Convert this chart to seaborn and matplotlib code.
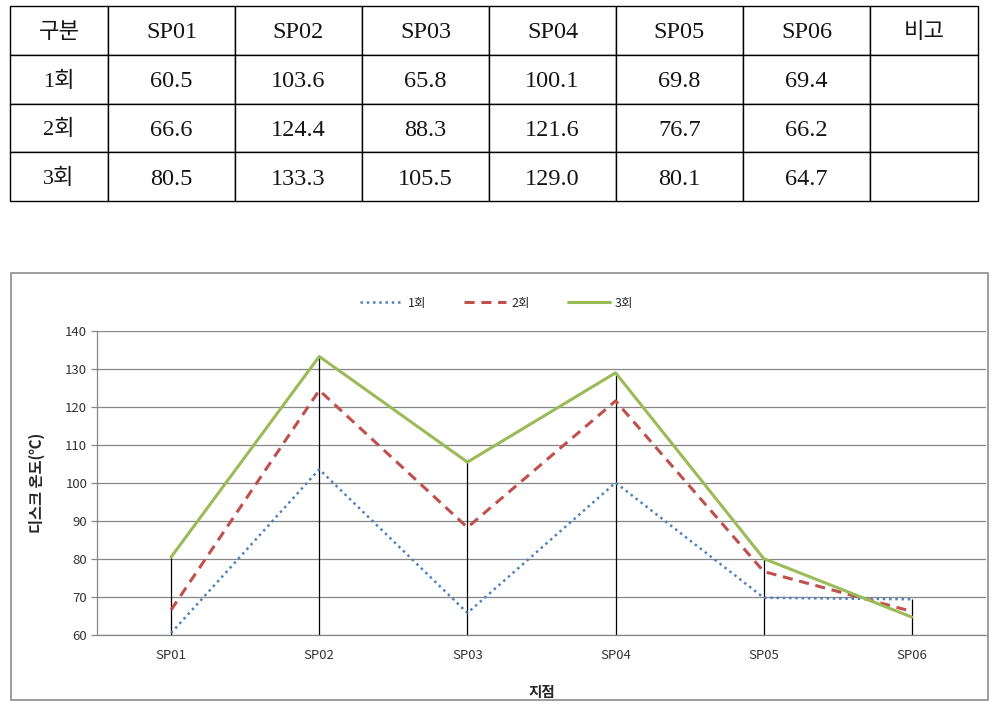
import matplotlib
matplotlib.use("Agg")
import matplotlib.pyplot as plt
import pandas as pd
import seaborn as sns
from matplotlib.patches import Rectangle

# ─────────────────────────────────────────────
# DATA
# ─────────────────────────────────────────────
points = ["SP01", "SP02", "SP03", "SP04", "SP05", "SP06"]
runs = ["1회", "2회", "3회"]
run1 = [60.5, 103.6, 65.8, 100.1, 69.8, 69.4]
run2 = [66.6, 124.4, 88.3, 121.6, 76.7, 66.2]
run3 = [80.5, 133.3, 105.5, 129.0, 80.1, 64.7]
y_ticks = [60, 70, 80, 90, 100, 110, 120, 130, 140]

series = {"1회": run1, "2회": run2, "3회": run3}
df = pd.DataFrame(series, index=points)

sns.set_theme(style="white")
plt.rcParams["font.family"] = ["Noto Sans CJK KR", "DejaVu Sans"]

W, H = 995, 705
fig = plt.figure(figsize=(W / 100, H / 100), dpi=100)

# ─────────────────────────────────────────────
# TABLE (top)
# ─────────────────────────────────────────────
tax = fig.add_axes([10 / W, 1 - 201 / H, 968 / W, 195 / H])
tax.axis("off")
header = ["구분"] + points + ["비고"]
rows = [[r] + [f"{v:.1f}" for v in series[r]] + [""] for r in runs]
col_w = [98] + [127] * 6 + [108]
tbl = tax.table(cellText=rows, colLabels=header, colWidths=[c / sum(col_w) for c in col_w],
                cellLoc="center", bbox=[0, 0, 1, 1])
tbl.auto_set_font_size(False)
for (r, c), cell in tbl.get_celld().items():
    cell.set_edgecolor("black")
    cell.set_linewidth(1.0)
    cell.set_facecolor("white")
    txt = cell.get_text()
    txt.set_fontsize(17.5)
    txt.set_color("#151515")
    txt.set_family(["Liberation Serif", "Noto Sans CJK KR"])
    txt.set_verticalalignment("center_baseline")
    if any("\uac00" <= ch <= "\ud7a3" for ch in txt.get_text()):
        txt.set_fontsize(16)

# ─────────────────────────────────────────────
# CHART (bottom)
# ─────────────────────────────────────────────
fig.patches.append(Rectangle((11 / W, 5 / H), 977 / W, 427 / H, transform=fig.transFigure,
                             fill=False, edgecolor="#8c8c8c", linewidth=1.2))

ax = fig.add_axes([97 / W, 1 - 635 / H, 889 / W, 304 / H])

styles = {
    "1회": dict(color="#4F81BD", linewidth=1.8, dashes=(1, 1.5)),
    "2회": dict(color="#C0504D", linewidth=2.2, dashes=(3.3, 2.2)),
    "3회": dict(color="#9BBB59", linewidth=2.2),
}

for name in runs:
    st = styles[name]
    sns.lineplot(x=points, y=df[name].values, ax=ax, color=st["color"],
                 linewidth=st["linewidth"], label=name, legend=False)
    if "dashes" in st:
        ax.lines[-1].set_dashes(st["dashes"])

# drop lines from the highest point to the axis
ax.vlines(points, ymin=y_ticks[0], ymax=df.max(axis=1).values, color="black", linewidth=0.9, zorder=1)

ax.set_xlim(-0.5, len(points) - 0.5)
ax.set_ylim(y_ticks[0], y_ticks[-1])
ax.set_yticks(y_ticks)
ax.grid(axis="y", color="#878787", linewidth=0.9)
ax.set_axisbelow(True)
for side in ["top", "right"]:
    ax.spines[side].set_visible(False)
for side in ["left", "bottom"]:
    ax.spines[side].set_color("#878787")
    ax.spines[side].set_linewidth(0.9)

ax.tick_params(axis="y", length=4, width=0.9, color="#878787", pad=3, labelsize=9.5, labelcolor="#333333", left=True)
ax.tick_params(axis="x", length=0, pad=10, labelsize=9.5, labelcolor="#333333")

ax.set_ylabel("디스크 온도(℃)", fontsize=11, fontweight="bold", color="#262626")
ax.yaxis.set_label_coords(-0.0585, 0.5)
ax.set_xlabel("지점", fontsize=10.5, fontweight="bold", color="#262626")
ax.xaxis.set_label_coords(0.5, -0.161)

handles, labels = ax.get_legend_handles_labels()
fig.legend(handles, labels, loc="center", bbox_to_anchor=(497 / W, 1 - 303 / H), ncol=3,
           frameon=False, fontsize=9, handlelength=3.4, columnspacing=3.0, handletextpad=0.4)

fig.savefig("out.png", dpi=100, facecolor="white")
